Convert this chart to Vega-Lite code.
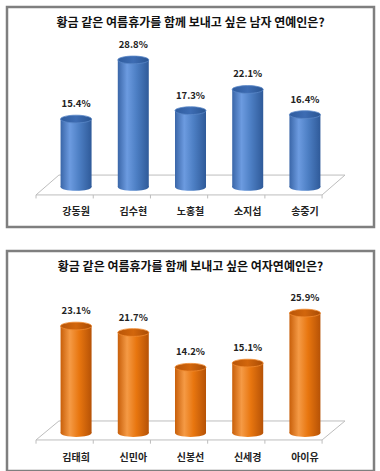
{
  "$schema": "https://vega.github.io/schema/vega-lite/v6.json",
  "padding": {"left": 5, "top": 5, "right": 5, "bottom": 5},
  "background": "white",
  "config": {
    "view": {"stroke": "#7f7f7f", "strokeWidth": 2.5},
    "font": "Noto Sans CJK KR",
    "concat": {"spacing": 20}
  },
  "vconcat": [
    {
      "width": 367,
      "height": 220,
      "title": {"text": "황금 같은 여름휴가를 함께 보내고 싶은 남자 연예인은?", "fontSize": 12, "fontWeight": "bold", "color": "#111111", "anchor": "middle", "baseline": "top", "offset": -23},
      "data": {"values": [
        {"name": "강동원", "v": 15.4, "label": "15.4%"},
        {"name": "김수현", "v": 28.8, "label": "28.8%"},
        {"name": "노홍철", "v": 17.3, "label": "17.3%"},
        {"name": "소지섭", "v": 22.1, "label": "22.1%"},
        {"name": "송중기", "v": 16.4, "label": "16.4%"}
      ]},
      "transform": [{"window": [{"op": "row_number", "as": "idx"}]}],
      "layer": [
        {
          "data": {"values": [
            {"fx": 0.3, "fy": -1.8, "o": 1},
            {"fx": 5.3, "fy": -1.8, "o": 2},
            {"fx": 5.7, "fy": 2.7, "o": 3},
            {"fx": 0.7, "fy": 2.7, "o": 4},
            {"fx": 0.3, "fy": -1.8, "o": 5}
          ]},
          "mark": {"type": "line", "stroke": "#bdbdbd", "strokeWidth": 1},
          "encoding": {
            "x": {"field": "fx", "type": "quantitative", "scale": {"domain": [-0.12, 6.12], "nice": false, "zero": false}, "axis": null},
            "y": {"field": "fy", "type": "quantitative", "scale": {"domain": [-9.07, 40.8], "nice": false, "zero": false}, "axis": null},
            "order": {"field": "o", "type": "quantitative"}
          }
        },
        {
          "data": {"values": [{"tx": 0.3}, {"tx": 1.3}, {"tx": 2.3}, {"tx": 3.3}, {"tx": 4.3}, {"tx": 5.3}]},
          "mark": {"type": "rule", "stroke": "#bdbdbd", "strokeWidth": 1},
          "encoding": {
            "x": {"field": "tx", "type": "quantitative", "axis": null},
            "y": {"datum": -1.8, "type": "quantitative", "axis": null},
            "y2": {"datum": -2.6}
          }
        },
        {
          "mark": {"type": "bar", "width": 31, "color": {"gradient": "linear", "x1": 0, "y1": 0, "x2": 1, "y2": 0, "stops": [{"offset": 0, "color": "#3a66a8"}, {"offset": 0.3, "color": "#6c9be0"}, {"offset": 0.6, "color": "#4d7fc4"}, {"offset": 1, "color": "#2f5a99"}]}},
          "encoding": {
            "x": {"field": "idx", "type": "quantitative", "axis": null},
            "y": {"field": "v", "type": "quantitative", "axis": null},
            "y2": {"datum": 0}
          }
        },
        {
          "mark": {"type": "point", "filled": true, "opacity": 1, "size": 961, "shape": "M-1,0A1,0.25,0,1,0,1,0A1,0.25,0,1,0,-1,0Z", "color": {"gradient": "linear", "x1": 0, "y1": 0, "x2": 1, "y2": 0, "stops": [{"offset": 0, "color": "#3a66a8"}, {"offset": 0.3, "color": "#6c9be0"}, {"offset": 0.6, "color": "#4d7fc4"}, {"offset": 1, "color": "#2f5a99"}]}},
          "encoding": {
            "x": {"field": "idx", "type": "quantitative", "axis": null},
            "y": {"datum": 0, "type": "quantitative", "axis": null}
          }
        },
        {
          "mark": {"type": "point", "filled": true, "opacity": 1, "size": 961, "shape": "M-1,0A1,0.25,0,1,0,1,0A1,0.25,0,1,0,-1,0Z", "stroke": "#5a88c8", "strokeWidth": 0.8, "color": {"gradient": "linear", "x1": 0, "y1": 0, "x2": 1, "y2": 0, "stops": [{"offset": 0, "color": "#2f5c9e"}, {"offset": 0.5, "color": "#3d6cb3"}, {"offset": 1, "color": "#2a5592"}]}},
          "encoding": {
            "x": {"field": "idx", "type": "quantitative", "axis": null},
            "y": {"field": "v", "type": "quantitative", "axis": null}
          }
        },
        {
          "mark": {"type": "text", "baseline": "bottom", "dy": -10, "fontSize": 9.5, "fontWeight": "bold", "color": "#222222"},
          "encoding": {
            "x": {"field": "idx", "type": "quantitative", "axis": null},
            "y": {"field": "v", "type": "quantitative", "axis": null},
            "text": {"field": "label"}
          }
        },
        {
          "mark": {"type": "text", "baseline": "middle", "fontSize": 10, "fontWeight": "bold", "color": "#222222"},
          "encoding": {
            "x": {"field": "idx", "type": "quantitative", "axis": null},
            "y": {"datum": -5.67, "type": "quantitative", "axis": null},
            "text": {"field": "name"}
          }
        }
      ]
    },
    {
      "width": 367,
      "height": 220,
      "title": {"text": "황금 같은 여름휴가를 함께 보내고 싶은 여자연예인은?", "fontSize": 12, "fontWeight": "bold", "color": "#111111", "anchor": "middle", "baseline": "top", "offset": -23},
      "data": {"values": [
        {"name": "김태희", "v": 23.1, "label": "23.1%"},
        {"name": "신민아", "v": 21.7, "label": "21.7%"},
        {"name": "신봉선", "v": 14.2, "label": "14.2%"},
        {"name": "신세경", "v": 15.1, "label": "15.1%"},
        {"name": "아이유", "v": 25.9, "label": "25.9%"}
      ]},
      "transform": [{"window": [{"op": "row_number", "as": "idx"}]}],
      "layer": [
        {
          "data": {"values": [
            {"fx": 0.3, "fy": -1.5, "o": 1},
            {"fx": 5.3, "fy": -1.5, "o": 2},
            {"fx": 5.7, "fy": 2.6, "o": 3},
            {"fx": 0.7, "fy": 2.6, "o": 4},
            {"fx": 0.3, "fy": -1.5, "o": 5}
          ]},
          "mark": {"type": "line", "stroke": "#bdbdbd", "strokeWidth": 1},
          "encoding": {
            "x": {"field": "fx", "type": "quantitative", "scale": {"domain": [-0.12, 6.12], "nice": false, "zero": false}, "axis": null},
            "y": {"field": "fy", "type": "quantitative", "scale": {"domain": [-8.2, 39.3], "nice": false, "zero": false}, "axis": null},
            "order": {"field": "o", "type": "quantitative"}
          }
        },
        {
          "data": {"values": [{"tx": 0.3}, {"tx": 1.3}, {"tx": 2.3}, {"tx": 3.3}, {"tx": 4.3}, {"tx": 5.3}]},
          "mark": {"type": "rule", "stroke": "#bdbdbd", "strokeWidth": 1},
          "encoding": {
            "x": {"field": "tx", "type": "quantitative", "axis": null},
            "y": {"datum": -1.5, "type": "quantitative", "axis": null},
            "y2": {"datum": -2.3}
          }
        },
        {
          "mark": {"type": "bar", "width": 31, "color": {"gradient": "linear", "x1": 0, "y1": 0, "x2": 1, "y2": 0, "stops": [{"offset": 0, "color": "#c85f0a"}, {"offset": 0.3, "color": "#f59a45"}, {"offset": 0.6, "color": "#e8760f"}, {"offset": 1, "color": "#b65206"}]}},
          "encoding": {
            "x": {"field": "idx", "type": "quantitative", "axis": null},
            "y": {"field": "v", "type": "quantitative", "axis": null},
            "y2": {"datum": 0}
          }
        },
        {
          "mark": {"type": "point", "filled": true, "opacity": 1, "size": 961, "shape": "M-1,0A1,0.25,0,1,0,1,0A1,0.25,0,1,0,-1,0Z", "color": {"gradient": "linear", "x1": 0, "y1": 0, "x2": 1, "y2": 0, "stops": [{"offset": 0, "color": "#c85f0a"}, {"offset": 0.3, "color": "#f59a45"}, {"offset": 0.6, "color": "#e8760f"}, {"offset": 1, "color": "#b65206"}]}},
          "encoding": {
            "x": {"field": "idx", "type": "quantitative", "axis": null},
            "y": {"datum": 0, "type": "quantitative", "axis": null}
          }
        },
        {
          "mark": {"type": "point", "filled": true, "opacity": 1, "size": 961, "shape": "M-1,0A1,0.25,0,1,0,1,0A1,0.25,0,1,0,-1,0Z", "stroke": "#f08a30", "strokeWidth": 0.8, "color": {"gradient": "linear", "x1": 0, "y1": 0, "x2": 1, "y2": 0, "stops": [{"offset": 0, "color": "#b85508"}, {"offset": 0.5, "color": "#d2660c"}, {"offset": 1, "color": "#a94c05"}]}},
          "encoding": {
            "x": {"field": "idx", "type": "quantitative", "axis": null},
            "y": {"field": "v", "type": "quantitative", "axis": null}
          }
        },
        {
          "mark": {"type": "text", "baseline": "bottom", "dy": -10, "fontSize": 9.5, "fontWeight": "bold", "color": "#222222"},
          "encoding": {
            "x": {"field": "idx", "type": "quantitative", "axis": null},
            "y": {"field": "v", "type": "quantitative", "axis": null},
            "text": {"field": "label"}
          }
        },
        {
          "mark": {"type": "text", "baseline": "middle", "fontSize": 10, "fontWeight": "bold", "color": "#222222"},
          "encoding": {
            "x": {"field": "idx", "type": "quantitative", "axis": null},
            "y": {"datum": -5.4, "type": "quantitative", "axis": null},
            "text": {"field": "name"}
          }
        }
      ]
    }
  ]
}
